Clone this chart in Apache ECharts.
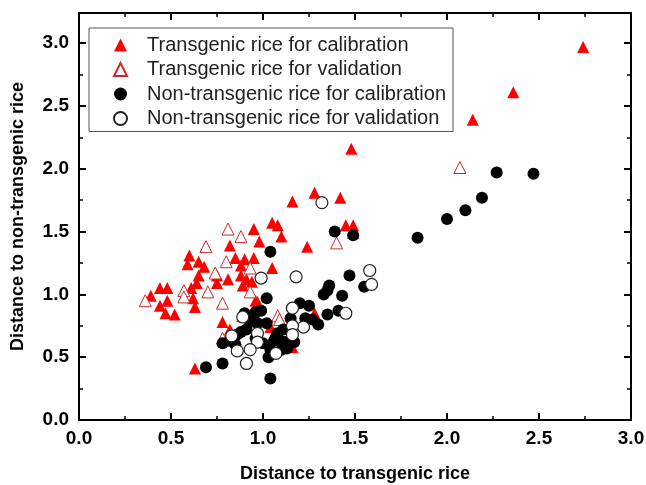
<!DOCTYPE html>
<html>
<head>
<meta charset="utf-8">
<script src="https://cdn.jsdelivr.net/npm/echarts@6/dist/echarts.min.js"></script>
<style>
    html, body { margin: 0; padding: 0; background: #fff; }
    #chart { width: 646px; height: 485px; }
</style>
</head>
<body>
<div id="chart"></div>
<script>
// 图例名称
const seriesNames = [
    'Transgenic rice for calibration',
    'Transgenic rice for validation',
    'Non-transgenic rice for calibration',
    'Non-transgenic rice for validation'
]
// 坐标轴刻度
const xTicks = [0, 0.5, 1.0, 1.5, 2.0, 2.5, 3.0]
const yTicks = [0, 0.5, 1.0, 1.5, 2.0, 2.5, 3.0]

// [distance to transgenic, distance to non-transgenic]
const transCal = [
    [2.74, 2.97], [2.36, 2.61], [2.14, 2.39], [1.48, 2.16], [1.42, 1.77], [1.28, 1.81],
    [1.16, 1.74], [1.45, 1.55], [1.49, 1.55], [1.05, 1.57], [1.08, 1.55], [0.95, 1.52],
    [1.10, 1.46], [0.98, 1.42], [1.24, 1.38], [0.82, 1.39], [0.60, 1.31], [0.59, 1.24],
    [0.65, 1.26], [0.68, 1.22], [0.85, 1.29], [0.90, 1.28], [0.95, 1.29], [0.88, 1.23],
    [1.05, 1.21], [0.65, 1.15], [0.75, 1.15], [0.81, 1.12], [0.88, 1.15], [0.91, 1.12],
    [0.94, 1.10], [0.89, 1.07], [0.75, 1.09], [0.64, 1.09], [0.61, 1.05], [0.39, 0.99],
    [0.44, 1.05], [0.48, 1.05], [0.44, 0.91], [0.48, 0.95], [0.47, 0.85], [0.52, 0.84],
    [0.62, 0.97], [0.63, 0.90], [0.97, 0.94], [0.78, 0.78], [1.04, 0.74], [0.82, 0.72],
    [1.28, 0.85], [0.63, 0.41], [1.49, 1.49], [1.16, 0.58], [0.96, 0.95]
]
const transVal = [
    [2.07, 2.01], [1.40, 1.41], [0.88, 1.46], [0.81, 1.52], [0.69, 1.38], [0.80, 1.26],
    [0.93, 1.21], [0.74, 1.17], [0.57, 1.03], [0.70, 1.02], [0.57, 0.98], [0.36, 0.95],
    [0.93, 1.02], [0.78, 0.93], [0.89, 0.83], [1.08, 0.83], [0.78, 0.65], [1.09, 0.80]
]
const nonCal = [
    [2.47, 1.96], [2.27, 1.97], [2.19, 1.77], [2.10, 1.67], [2.00, 1.60], [1.84, 1.45],
    [1.39, 1.50], [1.49, 1.47], [1.47, 1.15], [1.55, 1.06], [1.36, 1.07], [1.35, 1.03],
    [1.33, 1.00], [1.43, 0.99], [1.41, 0.87], [1.35, 0.84], [1.04, 1.34], [1.02, 0.97],
    [1.20, 0.93], [1.25, 0.91], [1.27, 0.80], [1.23, 0.81], [1.15, 0.81], [1.17, 0.62],
    [1.12, 0.62], [1.13, 0.57], [1.10, 0.56], [1.04, 0.33], [0.69, 0.42], [0.78, 0.45],
    [0.78, 0.61], [0.86, 0.68], [0.91, 0.72], [1.00, 0.61], [1.04, 0.56], [1.03, 0.50],
    [1.11, 0.62], [0.93, 0.78], [0.97, 0.77], [0.90, 0.85], [0.96, 0.86], [1.02, 0.77],
    [0.99, 0.87], [0.95, 0.80], [0.82, 0.63], [0.88, 0.70], [0.96, 0.65], [1.06, 0.63],
    [1.08, 0.69], [1.11, 0.72], [1.14, 0.60], [1.07, 0.66], [0.85, 0.60], [1.30, 0.76]
]
const nonVal = [
    [1.32, 1.73], [1.58, 1.19], [1.59, 1.08], [1.45, 0.85], [1.18, 1.14], [0.99, 1.13],
    [1.16, 0.89], [1.22, 0.74], [1.16, 0.75], [1.16, 0.68], [0.83, 0.67], [0.97, 0.69],
    [0.97, 0.62], [1.07, 0.53], [0.86, 0.55], [0.93, 0.56], [0.91, 0.45], [0.89, 0.82]
]

const FONT = '"Liberation Sans", Arial, sans-serif'

// 四周都画刻度 (朝内)
function makeAxis(pos, ticks, max, showLabel) {
    return {
        type: 'value',
        position: pos,
        min: ticks[0],
        max: max,
        interval: 0.5,
        axisLine: { show: true, onZero: false, lineStyle: { color: '#000', width: 2 } },
        axisTick: { show: true, inside: true, length: 7, lineStyle: { color: '#000', width: 2 } },
        minorTick: { show: true, splitNumber: 2, length: 4, lineStyle: { color: '#000', width: 1.5 } },
        splitLine: { show: false },
        axisLabel: {
            show: showLabel,
            showMaxLabel: ticks[ticks.length - 1] === max,
            color: '#000',
            fontFamily: FONT,
            fontWeight: 'bold',
            fontSize: 19,
            margin: pos === 'bottom' ? 9 : 10,
            formatter: v => v.toFixed(1)
        }
    }
}

let xBottom = makeAxis('bottom', xTicks, 3.0, true)
xBottom.name = 'Distance to transgenic rice'
xBottom.nameLocation = 'middle'
xBottom.nameGap = 45
xBottom.nameTextStyle = { color: '#000', fontFamily: FONT, fontWeight: 'bold', fontSize: 18 }

let yLeft = makeAxis('left', yTicks, 3.24, true)
yLeft.name = 'Distance to non-transgenic rice'
yLeft.nameLocation = 'middle'
yLeft.nameGap = 52
yLeft.nameTextStyle = { color: '#000', fontFamily: FONT, fontWeight: 'bold', fontSize: 18 }

// 图例: 固定尺寸的符号, 文字往右推
const legendIcons = ['triangle', 'triangle', 'circle', 'circle']

let chart = echarts.init(document.getElementById('chart'), null, { renderer: 'canvas' })
chart.setOption({
    animation: false,
    backgroundColor: '#fff',
    grid: { left: 79, right: 15, top: 13, bottom: 65, outerBoundsMode: 'none' },
    xAxis: [xBottom, makeAxis('top', xTicks, 3.0, false)],
    yAxis: [yLeft, makeAxis('right', yTicks, 3.24, false)],
    legend: {
        orient: 'vertical',
        left: 89,
        top: 28,
        padding: [7, 7, 3, 24],
        itemWidth: 13,
        itemHeight: 13,
        itemGap: 4.5,
        borderColor: '#555',
        borderWidth: 1,
        backgroundColor: '#fff',
        textStyle: { color: '#222', fontFamily: FONT, fontSize: 20, padding: [0, 0, 0, 15] },
        data: seriesNames.map((n, i) => ({ name: n, icon: legendIcons[i] }))
    },
    series: [
        {
            name: seriesNames[0],
            type: 'scatter',
            symbol: 'triangle',
            symbolSize: 12,
            itemStyle: { color: '#ff0000', opacity: 1 },
            data: transCal
        },
        {
            name: seriesNames[1],
            type: 'scatter',
            symbol: 'triangle',
            symbolSize: 12,
            itemStyle: { color: '#fff', borderColor: '#cc2a2a', borderWidth: 1, opacity: 1 },
            data: transVal
        },
        {
            name: seriesNames[2],
            type: 'scatter',
            symbol: 'circle',
            symbolSize: 12,
            itemStyle: { color: '#000', opacity: 1 },
            data: nonCal
        },
        {
            name: seriesNames[3],
            type: 'scatter',
            symbol: 'circle',
            symbolSize: 12,
            itemStyle: { color: '#fff', borderColor: '#222', borderWidth: 1.2, opacity: 1 },
            data: nonVal
        }
    ]
})
</script>
</body>
</html>
